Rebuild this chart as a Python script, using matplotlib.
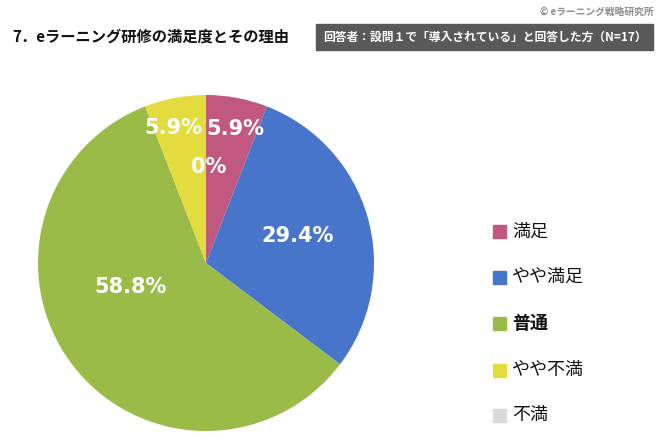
import numpy as np
import matplotlib
matplotlib.use("Agg")
import matplotlib.pyplot as plt
import matplotlib.patches as mpatches

plt.rcParams["font.family"] = ["Noto Sans CJK JP", "DejaVu Sans"]

# ── Data ──────────────────────────────────────────────────────────────────────
categories = ["満足", "やや満足", "普通", "やや不満", "不満"]
values = [5.9, 29.4, 58.8, 5.9, 0.0]
labels = ["5.9%", "29.4%", "58.8%", "5.9%", "0%"]
colors = ["#C05880", "#4775CA", "#9BBB48", "#E2DC3F", "#D9D9D9"]

# label placement (radius fraction, angle deg) — mimics Excel "best fit"
LABEL_POS = [(0.82, 77.5), (0.57, 16.4), (0.47, 197.7), (0.83, 103.7), (0.57, 88.6)]

W, H = 659, 444
fig = plt.figure(figsize=(W / 100, H / 100), dpi=100)

# pie axes: centre (206, 263) px, radius 168 px
cx, cy, r = 206, 263, 168
ax = fig.add_axes([(cx - r) / W, (H - cy - r) / H, 2 * r / W, 2 * r / H])
ax.pie(values, colors=colors, startangle=90, counterclock=False, radius=1,
       wedgeprops=dict(linewidth=0))
ax.set_xlim(-1, 1)
ax.set_ylim(-1, 1)
ax.set_aspect("equal")
ax.axis("off")

for lab, (rf, th) in zip(labels, LABEL_POS):
    t = np.deg2rad(th)
    ax.text(rf * np.cos(t), rf * np.sin(t), lab, ha="center", va="center",
            color="white", fontsize=15, fontweight="bold", family="DejaVu Sans")

# ── Titles ────────────────────────────────────────────────────────────────────
fig.text(12 / W, 1 - 37 / H, "7．eラーニング研修の満足度とその理由",
         ha="left", va="center", fontsize=11, fontweight="bold", color="#111111")

fig.patches.append(mpatches.Rectangle((316 / W, 1 - 50 / H), (653 - 316) / W, 26 / H,
                                      transform=fig.transFigure, color="#595959"))
fig.text(485 / W, 1 - 37 / H, "回答者：設問１で「導入されている」と回答した方（N=17）",
         ha="center", va="center", fontsize=8.5, fontweight="bold", color="white")

fig.text(654 / W, 1 - 12 / H, "© eラーニング戦略研究所", ha="right", va="center",
         fontsize=7, color="#8C8C8C", fontweight="bold")

# ── Legend ────────────────────────────────────────────────────────────────────
leg_y = [232, 277, 323, 370, 415]
for cat, col, y in zip(categories, colors, leg_y):
    fig.patches.append(mpatches.Rectangle((493 / W, 1 - (y + 6.5) / H), 13 / W, 13 / H,
                                          transform=fig.transFigure, color=col))
    fig.text(512 / W, 1 - y / H, cat, ha="left", va="center", fontsize=13,
             color="#111111", fontweight="bold" if cat == "普通" else "normal")

fig.savefig("out.png", dpi=100)
